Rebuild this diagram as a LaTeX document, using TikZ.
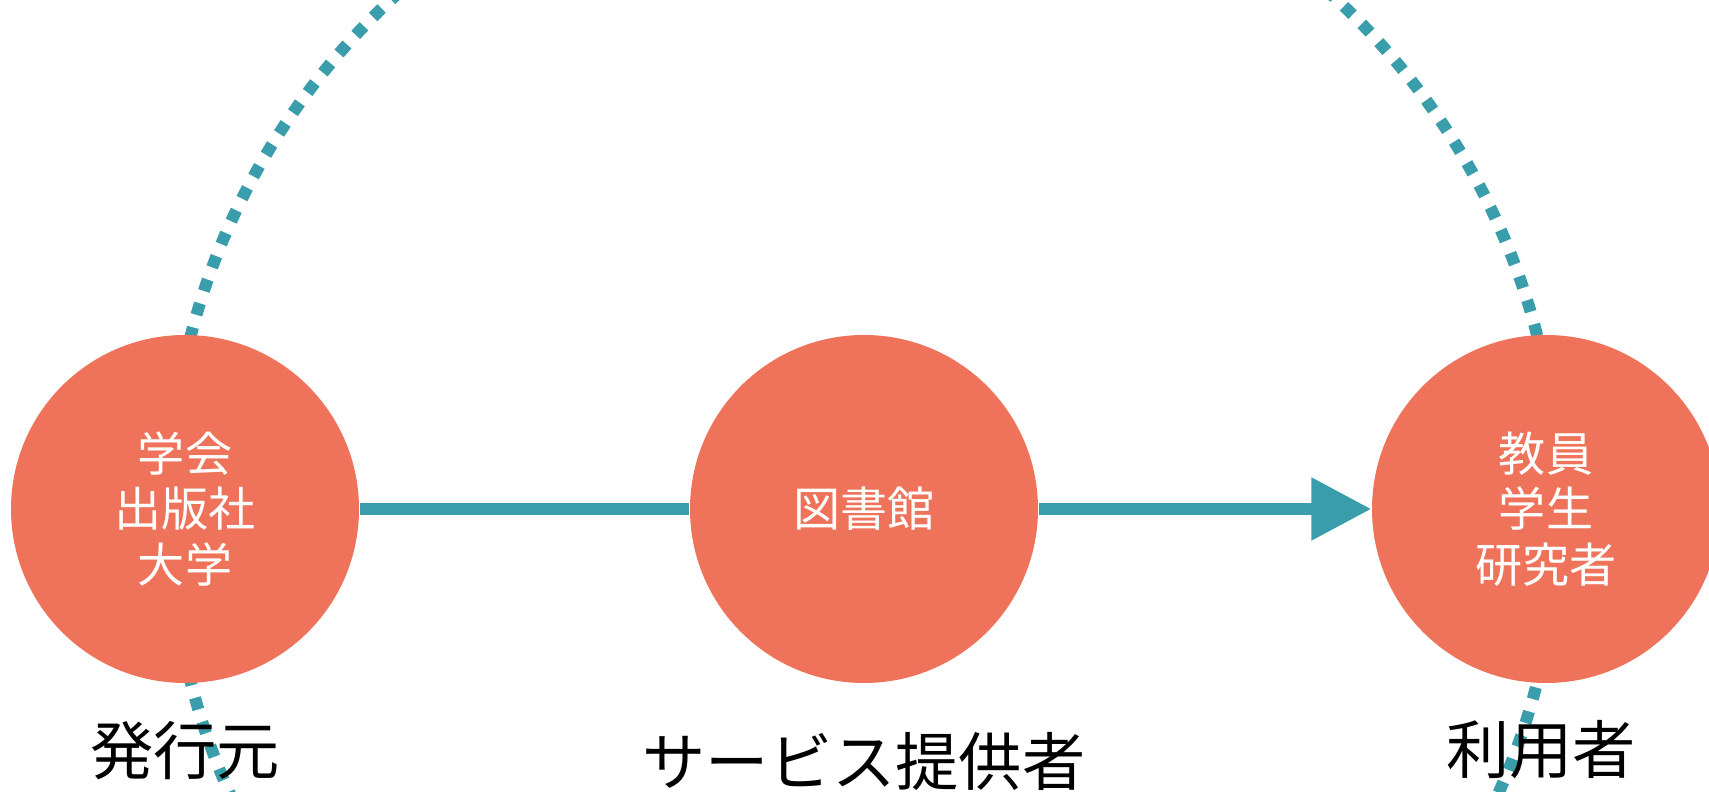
\documentclass[tikz,border=0pt]{standalone}
\usepackage{fontspec}
\setmainfont{Noto Sans CJK JP}
\usepackage{tikz}
\usetikzlibrary{arrows.meta}

\definecolor{salmon}{HTML}{EF735A}
\definecolor{flowteal}{HTML}{3A9DAB}

\begin{document}
\begin{tikzpicture}[
  actor/.style={circle, fill=salmon, minimum size=3.48cm, inner sep=0pt, text=white, align=center, font=\fontsize{13.4}{15.8}\selectfont},
  caption/.style={font=\fontsize{18}{20}\selectfont},
  flow/.style={line width=0.12cm, flowteal},
  ring/.style={line width=0.12cm, flowteal, dash pattern=on 0.12cm off 0.13cm}
]

\begin{scope}[scale=1]

\useasboundingbox (0,0) rectangle (17.09,7.92);
\clip (0,0) rectangle (17.09,7.92);

\coordinate (hub) at (8.64,2.83);
\draw[ring] (hub) circle (6.95);

\node[actor] (pub) at (1.85,2.83) {学会\\出版社\\大学};
\node[actor] (lib) at (hub) {図書館};
\node[actor] (usr) at (15.46,2.83) {教員\\学生\\研究者};

\draw[flow] (pub) -- (lib);
\draw[flow, -{Triangle[length=0.6cm, width=0.6cm]}] (lib) -- (usr);

\node[caption] (pubname) at (1.85,0.41) {発行元};
\node[caption] (libname) at (8.64,0.31) {サービス提供者};
\node[caption] (usrname) at (15.41,0.42) {利用者};

\end{scope}

\end{tikzpicture}
\end{document}
